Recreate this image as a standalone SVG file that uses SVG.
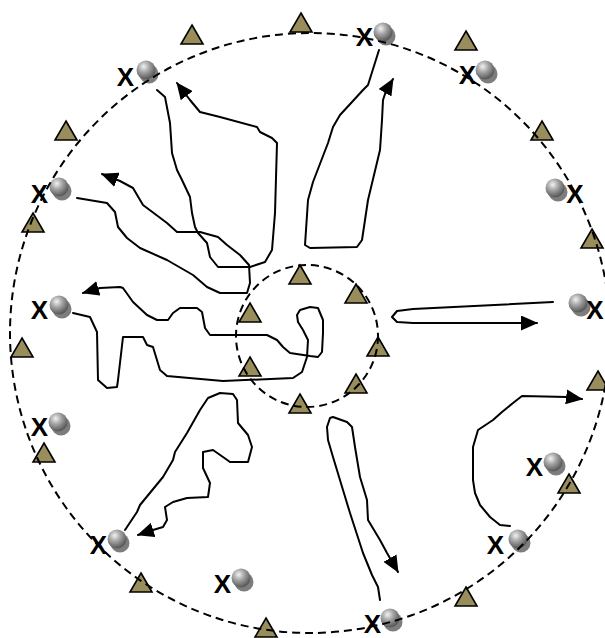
<svg xmlns="http://www.w3.org/2000/svg" xmlns:xlink="http://www.w3.org/1999/xlink" width="605" height="638" viewBox="0 0 605 638">
<style>
.ring{fill:none;stroke:#000;stroke-width:2;stroke-dasharray:8 5}
.tri{fill:#998d5b;stroke:#000;stroke-width:1.6;stroke-linejoin:miter}
.x{font-family:"Liberation Sans",Arial,sans-serif;font-weight:bold;font-size:26px;fill:#000;text-anchor:middle}
.run{fill:none;stroke:#000;stroke-width:2;stroke-linejoin:round;stroke-linecap:round}
.arr{marker-end:url(#ah)}
</style>
<defs>
<radialGradient id="bg" cx="38%" cy="32%" r="65%">
<stop offset="0" stop-color="#f2f2f2"/>
<stop offset="0.45" stop-color="#a6a6a6"/>
<stop offset="1" stop-color="#5c5c5c"/>
</radialGradient>
<path id="t" d="M0,-19 L11,0 L-11,0 Z"/>
<g id="b">
<circle cx="3" cy="4" r="9.5" fill="#7d7d7d"/>
<circle cx="0" cy="0" r="9.5" fill="url(#bg)"/>
</g>
<marker id="ah" markerUnits="userSpaceOnUse" markerWidth="18" markerHeight="15" refX="16" refY="7.5" orient="auto">
<path d="M0,0 L17,7.5 L0,15 Z" fill="#000"/>
</marker>
</defs>
<rect width="605" height="638" fill="#fff"/>

<g id="cones-outer">
<use xlink:href="#t" class="tri" x="192" y="44"/>
<use xlink:href="#t" class="tri" x="301" y="32"/>
<use xlink:href="#t" class="tri" x="466" y="50"/>
<use xlink:href="#t" class="tri" x="542" y="140"/>
<use xlink:href="#t" class="tri" x="592" y="248"/>
<use xlink:href="#t" class="tri" x="598" y="390"/>
<use xlink:href="#t" class="tri" x="569" y="493"/>
<use xlink:href="#t" class="tri" x="466" y="606"/>
<use xlink:href="#t" class="tri" x="266" y="637"/>
<use xlink:href="#t" class="tri" x="141" y="592"/>
<use xlink:href="#t" class="tri" x="44" y="462"/>
<use xlink:href="#t" class="tri" x="22" y="357"/>
<use xlink:href="#t" class="tri" x="33" y="232"/>
<use xlink:href="#t" class="tri" x="66" y="140"/>
</g>
<g id="cones-inner">
<use xlink:href="#t" class="tri" x="300" y="284"/>
<use xlink:href="#t" class="tri" x="356" y="303"/>
<use xlink:href="#t" class="tri" x="250" y="322"/>
<use xlink:href="#t" class="tri" x="378" y="356"/>
<use xlink:href="#t" class="tri" x="250" y="376"/>
<use xlink:href="#t" class="tri" x="356" y="393"/>
<use xlink:href="#t" class="tri" x="300" y="413"/>
</g>

<g id="p1"><text class="x" x="364.5" y="46">X</text><use xlink:href="#b" x="383" y="32"/></g>
<g id="p2"><text class="x" x="467.5" y="84">X</text><use xlink:href="#b" x="485" y="70"/></g>
<g id="p3"><use xlink:href="#b" x="555" y="188"/><text class="x" x="575" y="203">X</text></g>
<g id="p4"><use xlink:href="#b" x="578" y="303"/><text class="x" x="595" y="319">X</text></g>
<g id="p5"><text class="x" x="534.5" y="476">X</text><use xlink:href="#b" x="553" y="462"/></g>
<g id="p6"><text class="x" x="495.5" y="554">X</text><use xlink:href="#b" x="518" y="539"/></g>
<g id="p7"><text class="x" x="372.5" y="633">X</text><use xlink:href="#b" x="390" y="618"/></g>
<g id="p8"><text class="x" x="222.5" y="593">X</text><use xlink:href="#b" x="241" y="578"/></g>
<g id="p9"><text class="x" x="98.5" y="554">X</text><use xlink:href="#b" x="117" y="539"/></g>
<g id="p10"><text class="x" x="39.5" y="436">X</text><use xlink:href="#b" x="58" y="422"/></g>
<g id="p11"><text class="x" x="39.5" y="319">X</text><use xlink:href="#b" x="59" y="305"/></g>
<g id="p12"><text class="x" x="39.5" y="203">X</text><use xlink:href="#b" x="59" y="187"/></g>
<g id="p13"><text class="x" x="125.5" y="86">X</text><use xlink:href="#b" x="146" y="70"/></g>

<g id="circles">
<circle class="ring" cx="310" cy="333" r="300"/>
<circle class="ring" cx="307" cy="336" r="71"/>
</g>

<g id="connectors">
<path class="run arr" d="M157,90 L165,97 L170,123 L172,153 L177,170 L182,180 L190,197 L192,213 L195,227 L198,233 L207,243 L210,257 L218,267 L250,267 L265,262 L272,250 L275,213 L277,143 L272,138 L260,132 L257,127 L220,117 L200,112 L190,100 L177,83"/>
<path class="run arr" d="M379,50 L368,85 L363,90 L352,102 L340,115 L333,127 L328,143 L313,182 L308,200 L305,245 L310,248 L357,247 L362,240 L368,200 L380,150 L382,120 L383,100 L386,91 L393,79"/>
<path class="run arr" d="M77,198 L107,203 L115,212 L118,227 L127,238 L140,248 L167,260 L193,275 L207,287 L220,293 L247,293 L250,283 L249,265 L240,255 L227,245 L218,237 L200,232 L177,232 L167,223 L143,205 L133,188 L120,181 L102,174"/>
<path class="run arr" d="M73,313 L90,317 L97,332 L98,380 L107,388 L117,387 L118,380 L123,337 L143,337 L147,345 L153,347 L160,370 L167,376 L223,381 L293,378 L302,372 L307,357 L308,340 L303,330 L298,322 L297,315 L300,310 L310,307 L318,308 L323,320 L323,333 L322,352 L318,357 L310,356 L290,353 L283,347 L277,340 L267,335 L210,335 L205,328 L202,312 L197,308 L180,308 L173,313 L168,320 L157,320 L147,315 L133,302 L123,288 L120,287 L100,288 L83,293"/>
<path class="run arr" d="M553,302 L413,309 L397,311 L392,317 L397,322 L413,323 L537,323"/>
<path class="run arr" d="M510,526 L500,525 L490,517 L480,505 L475,493 L473,480 L473,447 L478,430 L493,420 L502,412 L513,403 L522,396 L567,397 L582,399"/>
<path class="run arr" d="M380,600 L378,587 L372,575 L363,553 L350,513 L343,490 L333,457 L328,440 L327,427 L330,418 L333,417 L347,422 L352,427 L355,447 L360,477 L367,500 L368,520 L380,540 L387,553 L398,572"/>
<path class="run arr" d="M125,530 L137,512 L140,505 L163,477 L173,460 L175,452 L187,433 L200,410 L208,398 L220,393 L233,394 L237,400 L238,423 L248,435 L252,447 L248,462 L230,462 L223,457 L213,450 L203,452 L203,468 L210,483 L208,497 L187,498 L173,502 L165,507 L167,520 L163,527 L153,530 L138,535"/>
</g>
</svg>
